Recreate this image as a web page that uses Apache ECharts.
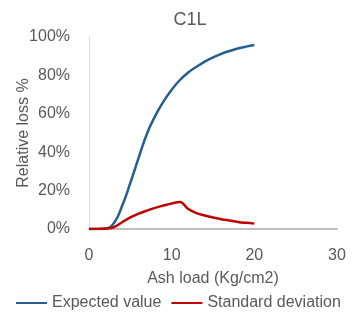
<!DOCTYPE html>
<html>
<head>
<meta charset="utf-8">
<script src="https://cdn.jsdelivr.net/npm/echarts@6/dist/echarts.min.js"></script>
<style>html,body{margin:0;padding:0;background:#fff}#c{width:362px;height:328px}</style>
</head>
<body>
<div id="c"></div>
<script>
var ashLoad = [0,1,2,3,4,5,6,7,8,9,10,11,12,13,14,15,16,17,18,19,20];
var expectedValue = [0,0,0.3,3,12,24,37,49.5,58.8,66.3,72.5,77.6,81.5,84.5,87.2,89.4,91.2,92.7,94,95,95.8];
var standardDeviation = [0,0,0.2,0.9,3.5,6,8,9.6,11,12.2,13.3,14.0,10.4,8.3,7.0,6.0,5.1,4.4,3.7,3.2,2.8];
var yTicks = [0,20,40,60,80,100];
var xTicks = [0,10,20,30];

function pairs(xs, ys){ return xs.map(function(x,i){ return [x, ys[i]/100]; }); }
var font = 'Liberation Sans';
var grey = '#595959';
var chart = echarts.init(document.getElementById('c'));
chart.setOption({
  animation:false,
  title:{text:'C1L', left:185, top:6, textAlign:'center', textStyle:{fontFamily:font, fontSize:18, fontWeight:'normal', color:grey}},
  grid:{left:89, right:25, top:37, bottom:99, outerBoundsMode:'none', containLabel:false},
  legend:{left:16, top:295, padding:0, itemWidth:31, itemHeight:2, itemGap:10,
    textStyle:{fontFamily:font, fontSize:16, color:grey},
    data:[{name:'Expected value', icon:'rect'},{name:'Standard deviation', icon:'rect'}]},
  xAxis:{type:'value', min:xTicks[0], max:xTicks[xTicks.length-1], interval:10,
    name:'Ash load (Kg/cm2)', nameLocation:'middle', nameGap:42, nameMoveOverlap:false,
    nameTextStyle:{fontFamily:font, fontSize:16, color:grey},
    axisLine:{show:true, lineStyle:{color:'#BFBFBF', width:2}}, axisTick:{show:false},
    splitLine:{show:false},
    axisLabel:{margin:19, fontFamily:font, fontSize:16, color:grey}},
  yAxis:{type:'value', min:yTicks[0]/100, max:yTicks[yTicks.length-1]/100, interval:0.2,
    name:'Relative loss %', nameLocation:'middle', nameGap:57, nameMoveOverlap:false,
    nameTextStyle:{fontFamily:font, fontSize:16, color:grey},
    axisLine:{show:true, lineStyle:{color:'#D9D9D9', width:1}}, axisTick:{show:false},
    splitLine:{show:false},
    axisLabel:{margin:19, fontFamily:font, fontSize:16, color:grey, formatter:function(v){return Math.round(v*100)+'%';}}},
  series:[
    {name:'Expected value', type:'line', data:pairs(ashLoad, expectedValue), symbol:'none', smooth:0.5,
      lineStyle:{color:'#255E91', width:2.5}, itemStyle:{color:'#255E91'}},
    {name:'Standard deviation', type:'line', data:pairs(ashLoad, standardDeviation), symbol:'none', smooth:0.4,
      lineStyle:{color:'#C00000', width:2.5}, itemStyle:{color:'#C00000'}}
  ]
});
</script>
</body>
</html>
